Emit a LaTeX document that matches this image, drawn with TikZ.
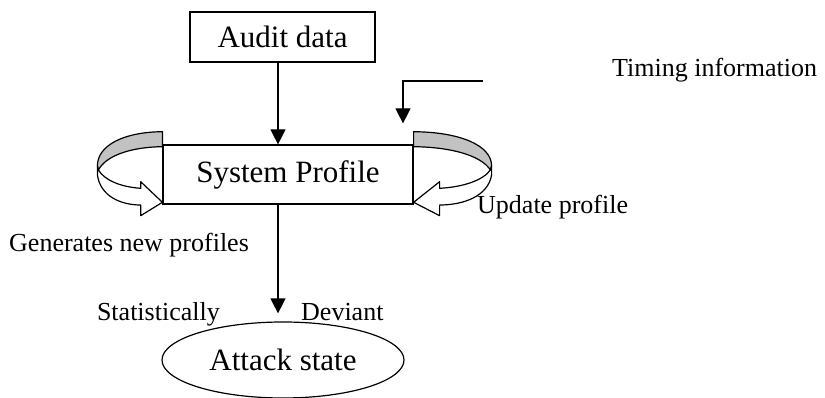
\documentclass[tikz,border=0pt]{standalone}
\usepackage{fontspec}
\setmainfont{Liberation Serif}
\usetikzlibrary{shapes.geometric,arrows.meta}
\begin{document}
\begin{tikzpicture}[x=1pt,y=-1pt,
  big/.style={font=\fontsize{31}{37}\selectfont},
  small/.style={font=\fontsize{26}{31}\selectfont, inner sep=0pt},
  boxnode/.style={draw,line width=1.2pt,inner sep=0pt,big},
  arr/.style={line width=1.2pt,-{Triangle[length=15pt,width=15pt]}},
  ribbonback/.style={draw,line width=1.2pt,line join=round,fill=black!24},
  ribbonfront/.style={draw,line width=1.2pt,line join=round,fill=white},
]
\useasboundingbox (0,0) rectangle (825,398);
\coordinate (o) at (0,0);
\coordinate (ax) at (278,0);
\coordinate (tx) at (403,0);

\node[boxnode, minimum width=185pt, minimum height=50pt] (audit) at (282.5,37) {Audit data};
\node[boxnode, minimum width=250pt, minimum height=59pt] (sys) at (288,174.5) {System Profile};
\node[ellipse, draw, line width=1.2pt, inner sep=0pt, minimum width=242pt, minimum height=76pt, big] (attack) at (283,360) {Attack state};

% timing arrow
\coordinate (tstart) at (483,81);
\draw[arr] (tstart) -- (tstart -| tx) -- ([yshift=21pt]sys.north -| tx);

% vertical arrows
\draw[arr] (audit.south -| ax) -- (sys.north -| ax);
\draw[arr] (sys.south -| ax) -- ([yshift=8pt]attack.north -| ax);

% left ribbon arrow
\begin{scope}[shift={(sys.west |- o)}]
  \path[ribbonback] (0,131.7) .. controls (-38,132) and (-65,145) .. (-65,166)
     -- (-64,170) .. controls (-56,155) and (-30,147) .. (0,146.7) -- cycle;
  \path[ribbonfront] (-65,166) -- (-65,175) .. controls (-62,196) and (-42,205) .. (-21.7,205)
     -- (-21.7,215.7) -- (0,202.3) -- (-21.7,181.7) -- (-21.7,188.3)
     .. controls (-42,187) and (-58,180) .. (-64,170) -- cycle;
\end{scope}
% right ribbon arrow
\begin{scope}[shift={(sys.east |- o)}, xscale=-1.2]
  \path[ribbonback] (0,131.7) .. controls (-38,132) and (-65,145) .. (-65,166)
     -- (-64,170) .. controls (-56,155) and (-30,147) .. (0,146.7) -- cycle;
  \path[ribbonfront] (-65,166) -- (-65,175) .. controls (-62,196) and (-42,205) .. (-21.7,205)
     -- (-21.7,215.7) -- (0,202.3) -- (-21.7,181.7) -- (-21.7,188.3)
     .. controls (-42,187) and (-58,180) .. (-64,170) -- cycle;
\end{scope}

% labels
\node[small, anchor=base west] (timing) at (612,77) {Timing information};
\node[small, anchor=base west] (gen) at (9,252) {Generates new profiles};
\node[small, anchor=base west] (upd) at (477,214) {Update profile};
\node[small, anchor=base east] (stat) at (220,320) {Statistically};
\node[small, anchor=base west] (dev) at (301,320) {Deviant};
\end{tikzpicture}
\end{document}
